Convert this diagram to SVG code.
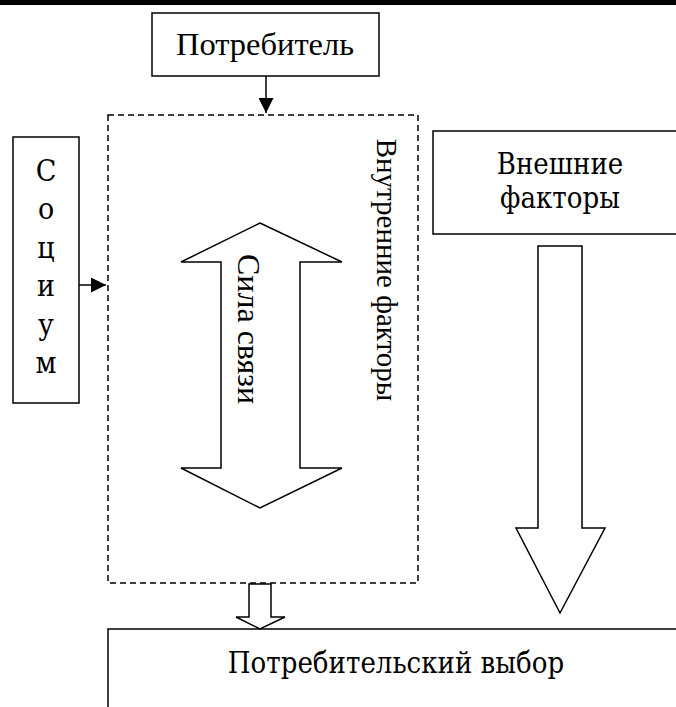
<svg xmlns="http://www.w3.org/2000/svg" width="676" height="707" viewBox="0 0 676 707">
<style>
.box{fill:#fff;stroke:#000;stroke-width:1.5}
.dash{fill:none;stroke:#000;stroke-width:1.5;stroke-dasharray:6 4}
.fat{fill:#fff;stroke:#000;stroke-width:1.5;stroke-linejoin:miter}
.ln{fill:none;stroke:#000;stroke-width:1.5}
.tr{font-family:"Liberation Serif","Times New Roman",serif;fill:#000}
.tn{font-family:"DejaVu Serif Condensed","DejaVu Serif",serif;fill:#000}
</style>
<defs>
<marker id="ah" viewBox="0 0 15 15" refX="15" refY="7.5" markerWidth="15" markerHeight="15" markerUnits="userSpaceOnUse" orient="auto">
<path d="M0,0 L15,7.5 L0,15 z" fill="#000"/>
</marker>
</defs>
<rect x="0" y="0" width="676" height="5" fill="#000"/>
<g id="internal">
<rect class="dash" x="108" y="115" width="310" height="468"/>
<text class="tr" font-size="29" text-anchor="middle" transform="translate(377,270) rotate(90)">Внутренние факторы</text>
</g>
<g id="consumer">
<rect class="box" x="152" y="13" width="227" height="63"/>
<text class="tr" font-size="32.5" x="265" y="55" text-anchor="middle">Потребитель</text>
</g>
<g id="socium">
<rect class="box" x="13" y="137" width="66" height="266"/>
<g class="tn" font-size="30" text-anchor="middle">
<text x="46" y="181">С</text>
<text x="46" y="219">о</text>
<text x="46" y="258">ц</text>
<text x="46" y="296">и</text>
<text x="46" y="335">у</text>
<text x="46" y="373">м</text>
</g>
</g>
<g id="external">
<rect class="box" x="433" y="131" width="260" height="103"/>
<text class="tn" font-size="29" x="560" y="174" text-anchor="middle">Внешние</text>
<text class="tn" font-size="29" x="560" y="208" text-anchor="middle">факторы</text>
</g>
<g id="choice">
<rect class="box" x="108" y="629" width="600" height="100"/>
<text class="tn" font-size="29" x="396" y="673" text-anchor="middle">Потребительский выбор</text>
</g>
<g id="bond">
<path class="fat" d="M260,223 L342,262 L300,262 L300,468 L342,468 L260,508 L181,468 L221,468 L221,262 L181,262 Z"/>
<text class="tr" font-size="32" text-anchor="middle" transform="translate(238,329) rotate(90)">Сила связи</text>
</g>
<g id="connectors">
<line class="ln" x1="266" y1="76" x2="266" y2="113" marker-end="url(#ah)"/>
<line class="ln" x1="79" y1="285" x2="106" y2="285" marker-end="url(#ah)"/>
<path class="fat" d="M538,246 L582,246 L582,528 L605,528 L560,613 L516,528 L538,528 Z"/>
<path class="fat" d="M249,584 L271,584 L271,617 L285,617 L260,629 L236,617 L249,617 Z"/>
</g>
</svg>
